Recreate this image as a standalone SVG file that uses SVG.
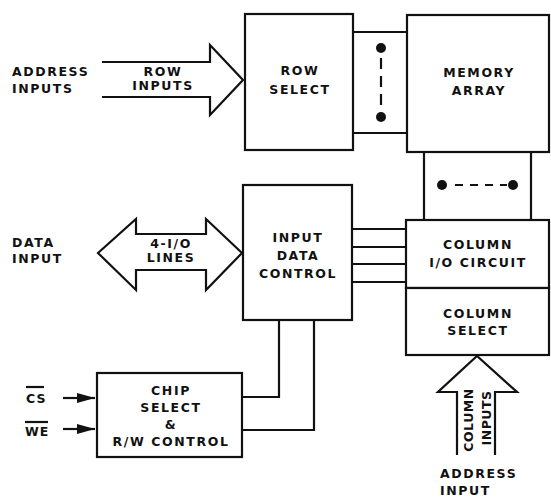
<svg xmlns="http://www.w3.org/2000/svg" width="551" height="499" viewBox="0 0 551 499">
<defs>
<style>
.b{fill:#fff;stroke:#111;stroke-width:2.2}
.l{fill:none;stroke:#111;stroke-width:2.2}
.t{font-family:"DejaVu Sans",sans-serif;font-weight:bold;font-size:12.5px;letter-spacing:1.6px;fill:#111}
.m{text-anchor:middle}
</style>
<marker id="ah" markerWidth="18" markerHeight="10" refX="18" refY="5" orient="auto" markerUnits="userSpaceOnUse">
<path d="M0,0 L18,5 L0,10 Z" fill="#111"/>
</marker>
</defs>
<rect width="551" height="499" fill="#fff"/>
<g id="connectors">
<path class="l" d="M102,62 H210 V45 L243,80 L210,115 V97 H102"/>
<path class="b" d="M98,253 L136,219 V234 H206 V219 L242,253 L206,290 V270 H136 V290 Z"/>
<path class="l" d="M457,455 V392 H438 L477,356 L517,392 H495 V455"/>
<path class="l" d="M353,32 H407 M353,133 H407"/>
<circle cx="381" cy="48" r="5" fill="#111"/>
<circle cx="381" cy="117" r="5" fill="#111"/>
<path class="l" d="M381,58 V107" stroke-dasharray="11 7"/>
<path class="l" d="M424,152 V220 M531,152 V220"/>
<circle cx="442" cy="185" r="5" fill="#111"/>
<circle cx="513" cy="185" r="5" fill="#111"/>
<path class="l" d="M455,185 H507" stroke-dasharray="8 7"/>
<path class="l" d="M352,229 H406 M352,247 H406 M352,264 H406 M352,282 H406"/>
<path class="l" d="M242,397 H279 V320 M242,430 H314 V320"/>
<path class="l" d="M63,398 H95" marker-end="url(#ah)"/>
<path class="l" d="M63,429 H95" marker-end="url(#ah)"/>
</g>
<g id="row-select">
<rect class="b" x="245" y="14" width="108" height="136"/>
<text class="t m" x="300" y="75">ROW</text>
<text class="t m" x="300" y="94">SELECT</text>
</g>
<g id="memory-array">
<rect class="b" x="407" y="15" width="142" height="137"/>
<text class="t m" x="479" y="77">MEMORY</text>
<text class="t m" x="479" y="95">ARRAY</text>
</g>
<g id="input-data-control">
<rect class="b" x="243" y="185" width="109" height="135"/>
<text class="t m" x="298" y="242">INPUT</text>
<text class="t m" x="298" y="260">DATA</text>
<text class="t m" x="298" y="278">CONTROL</text>
</g>
<g id="column-io">
<rect class="b" x="406" y="220" width="143" height="68"/>
<text class="t m" x="478" y="249">COLUMN</text>
<text class="t m" x="478" y="267">I/O CIRCUIT</text>
</g>
<g id="column-select">
<rect class="b" x="406" y="288" width="143" height="67"/>
<text class="t m" x="478" y="318">COLUMN</text>
<text class="t m" x="478" y="335">SELECT</text>
</g>
<g id="chip-select">
<rect class="b" x="97" y="373" width="145" height="84"/>
<text class="t m" x="171" y="395">CHIP</text>
<text class="t m" x="171" y="412">SELECT</text>
<text class="t m" x="171" y="429">&amp;</text>
<text class="t m" x="171" y="446">R/W CONTROL</text>
</g>
<g id="labels">
<text class="t" x="12" y="76">ADDRESS</text>
<text class="t" x="12" y="93">INPUTS</text>
<text class="t m" x="163" y="76">ROW</text>
<text class="t m" x="163" y="90">INPUTS</text>
<text class="t" x="12" y="247">DATA</text>
<text class="t" x="12" y="263">INPUT</text>
<text class="t m" x="171" y="248">4-I/O</text>
<text class="t m" x="171" y="262">LINES</text>
<text class="t" x="26" y="403" style="letter-spacing:1px">CS</text>
<path class="l" d="M26,387 H44" stroke-width="1.5"/>
<text class="t" x="25" y="436" style="letter-spacing:1px">WE</text>
<path class="l" d="M25,422 H48" stroke-width="1.5"/>
<text class="t m" transform="translate(473,420) rotate(-90)" x="0" y="0" style="letter-spacing:0.5px">COLUMN</text>
<text class="t m" transform="translate(491,418) rotate(-90)" x="0" y="0" style="letter-spacing:0.5px">INPUTS</text>
<text class="t" x="440" y="478">ADDRESS</text>
<text class="t" x="440" y="495">INPUT</text>
</g>
</svg>
